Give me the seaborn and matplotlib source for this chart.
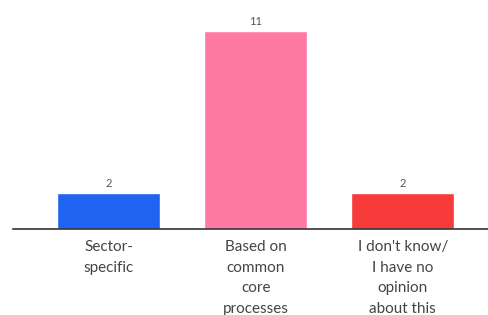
import matplotlib
matplotlib.use("Agg")
import matplotlib.pyplot as plt
import seaborn as sns
import pandas as pd

categories = ["Sector-\nspecific", "Based on\ncommon\ncore\nprocesses", "I don't know/\nI have no\nopinion\nabout this"]
values = [2, 11, 2]
colors = ["#1f63f2", "#ff7aa3", "#f73b3b"]

sns.set_theme(style="white")
plt.rcParams['font.family'] = ['Lato', 'DejaVu Sans']

df = pd.DataFrame({"cat": categories, "val": values})
fig = plt.figure(figsize=(4.88, 3.15), dpi=100)
ax = fig.add_axes([13/488, 1 - 229/315, 1 - 13/488, 216/315])
sns.barplot(data=df, x="cat", y="val", hue="cat", palette=colors, legend=False,
            width=0.7, ax=ax, saturation=1)
ax.set_xlim(-0.65, 2.58)
ax.set_ylim(0, 12)
for i, v in enumerate(values):
    ax.text(i, v + 0.2, str(v), ha="center", va="bottom", fontsize=8, color="#555555")
ax.set_xlabel("")
ax.set_ylabel("")
ax.set_yticks([])
ax.set_xticks(range(len(categories)))
ax.set_xticklabels(categories, fontsize=11, color="#444444", linespacing=1.6)
ax.tick_params(axis="x", length=0, pad=8)
for s in ["top", "right", "left"]:
    ax.spines[s].set_visible(False)
ax.spines["bottom"].set_color("#333333")
ax.spines["bottom"].set_linewidth(1.2)
fig.savefig("out.png", dpi=100)
